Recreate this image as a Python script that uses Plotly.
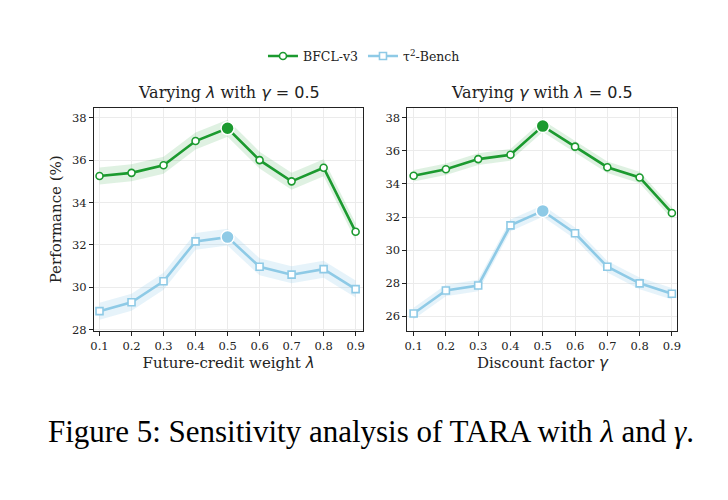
import plotly.graph_objects as go

# x values shared by both panels
weights = [0.1, 0.2, 0.3, 0.4, 0.5, 0.6, 0.7, 0.8, 0.9]

# left panel: varying lambda (gamma = 0.5)
bfcl_lambda = [35.25, 35.4, 35.76, 36.9, 37.5, 36.0, 35.0, 35.64, 32.62]
tau_lambda = [28.88, 29.3, 30.29, 32.17, 32.37, 30.97, 30.6, 30.86, 29.92]
band_lambda = 0.4

# right panel: varying gamma (lambda = 0.5)
bfcl_gamma = [34.49, 34.89, 35.5, 35.76, 37.49, 36.25, 35.01, 34.39, 32.25]
tau_gamma = [26.18, 27.57, 27.87, 31.5, 32.37, 31.02, 29.0, 28.0, 27.37]
band_gamma = 0.35

best_idx = 4  # 0.5 is the best setting in both sweeps

GREEN = "#1b9a2f"
BLUE = "#8ecae6"
GREEN_BAND = "rgba(27,154,47,0.14)"
BLUE_BAND = "rgba(142,202,230,0.22)"
SERIF = "DejaVu Serif"
SANS = "DejaVu Sans"

# page body has an 8px margin; keep the figure a bit smaller than the window
W, H = 708, 476


def px_x(p):
    return (p - 8) / W


def px_y(p):
    return 1 - (p - 8) / H


fig = go.Figure()


def add_series(ys, band, color, band_color, symbol, name, xa, ya, legend):
    lo = [v - band for v in ys]
    hi = [v + band for v in ys]
    fig.add_trace(go.Scatter(x=weights, y=lo, mode="lines", line=dict(width=0),
                             hoverinfo="skip", showlegend=False, xaxis=xa, yaxis=ya))
    fig.add_trace(go.Scatter(x=weights, y=hi, mode="lines", line=dict(width=0),
                             fill="tonexty", fillcolor=band_color, hoverinfo="skip",
                             showlegend=False, xaxis=xa, yaxis=ya))
    fig.add_trace(go.Scatter(
        x=weights, y=ys, mode="lines+markers", name=name, showlegend=legend,
        line=dict(color=color, width=2.6),
        marker=dict(symbol=symbol, size=7, color="white", line=dict(color=color, width=1.6)),
        xaxis=xa, yaxis=ya))
    fig.add_trace(go.Scatter(
        x=[weights[best_idx]], y=[ys[best_idx]], mode="markers", showlegend=False,
        marker=dict(symbol="circle", size=13, color=color, line=dict(color="white", width=1.5)),
        xaxis=xa, yaxis=ya))


add_series(bfcl_lambda, band_lambda, GREEN, GREEN_BAND, "circle", "BFCL-v3", "x", "y", True)
add_series(tau_lambda, band_lambda, BLUE, BLUE_BAND, "square", "τ<sup>2</sup>-Bench", "x", "y", True)
add_series(bfcl_gamma, band_gamma, GREEN, GREEN_BAND, "circle", "BFCL-v3", "x2", "y2", False)
add_series(tau_gamma, band_gamma, BLUE, BLUE_BAND, "square", "τ<sup>2</sup>-Bench", "x2", "y2", False)

axis_common = dict(
    showline=True, linecolor="#222", linewidth=1.2, mirror=True,
    showgrid=True, gridcolor="#ebebeb", gridwidth=1,
    ticks="outside", ticklen=4, tickcolor="#222", tickwidth=1,
    tickfont=dict(family=SERIF, size=11.5, color="#222"), zeroline=False,
)
title_font = dict(family=SERIF, size=15, color="#222")


def math(s):
    return f'<span style="font-family:{SANS}"><i>{s}</i></span>'


def panel_title(a, b):
    return f"Varying {math(a)} with {math(b)}<span style=\"font-family:{SANS}\"> = 0.5</span>"


fig.update_layout(
    width=W, height=H,
    paper_bgcolor="white", plot_bgcolor="white",
    margin=dict(l=0, r=0, t=0, b=0),
    xaxis=dict(domain=[px_x(91), px_x(363)], range=[0.083, 0.923], tickvals=weights,
               title=dict(text="Future-credit weight " + math("λ"), font=title_font, standoff=5),
               **axis_common),
    yaxis=dict(domain=[px_y(335), px_y(109)], range=[27.95, 38.47], tickvals=[28, 30, 32, 34, 36, 38],
               title=dict(text="Performance (%)", font=title_font, standoff=6),
               **axis_common),
    xaxis2=dict(domain=[px_x(408), px_x(681)], range=[0.081, 0.917], tickvals=weights, anchor="y2",
                title=dict(text="Discount factor " + math("γ"), font=title_font, standoff=5),
                **axis_common),
    yaxis2=dict(domain=[px_y(335), px_y(109)], range=[25.13, 38.6], tickvals=[26, 28, 30, 32, 34, 36, 38],
                anchor="x2", **axis_common),
    legend=dict(orientation="h", x=px_x(364), xanchor="center", y=px_y(57), yanchor="middle",
                font=dict(family=SERIF, size=12.5, color="#222"), bgcolor="rgba(0,0,0,0)",
                itemwidth=30, traceorder="normal"),
    annotations=[
        dict(text=panel_title("λ", "γ"), x=px_x(227), y=px_y(94), xref="paper", yref="paper",
             xanchor="center", yanchor="middle", showarrow=False,
             font=dict(family=SERIF, size=16, color="#222")),
        dict(text=panel_title("γ", "λ"), x=px_x(544), y=px_y(94), xref="paper", yref="paper",
             xanchor="center", yanchor="middle", showarrow=False,
             font=dict(family=SERIF, size=16, color="#222")),
        dict(text="Figure 5: Sensitivity analysis of TARA with <i>λ</i> and <i>γ</i>.",
             x=px_x(371), y=px_y(437), xref="paper", yref="paper",
             xanchor="center", yanchor="middle", showarrow=False,
             font=dict(family="Liberation Serif", size=31, color="black")),
    ],
)

fig.write_html("out.html")
